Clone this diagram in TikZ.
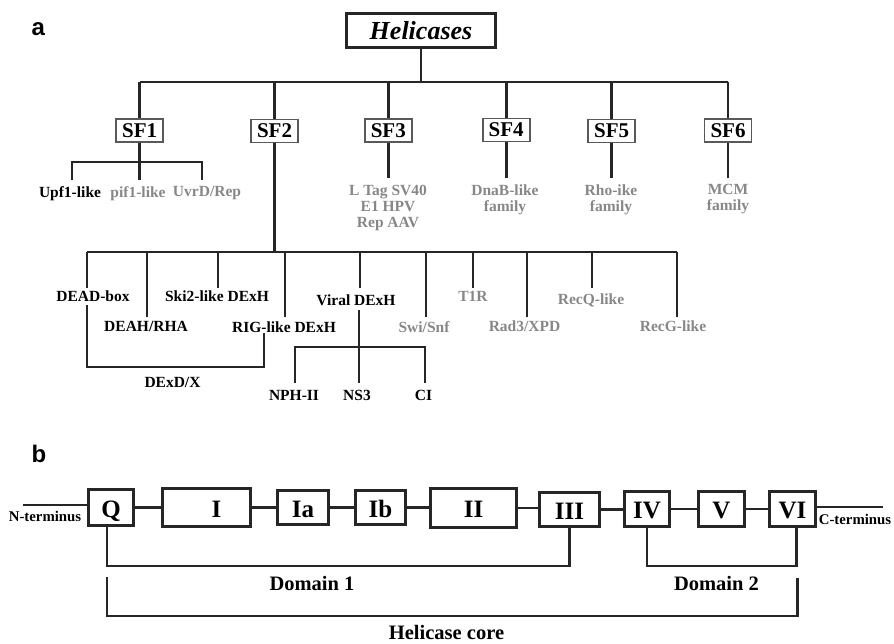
\documentclass[tikz,border=0pt]{standalone}
\usepackage{fontspec}
\setmainfont{Liberation Serif}
\setsansfont{Liberation Sans}
\begin{document}
\begin{tikzpicture}[x=1pt,y=-1pt,
  tree/.style={line width=2.7pt, draw=black!85},
  link/.style={line width=2.2pt, draw=black!85},
  sfbox/.style={draw=black!65, line width=1.6pt, fill=white, minimum width=47pt, minimum height=23pt, inner sep=0pt, font=\fontsize{21}{21}\selectfont\bfseries},
  lab/.style={font=\fontsize{15.5}{16}\selectfont\bfseries, inner sep=0pt, anchor=north, align=center},
  glab/.style={lab, text=black!47},
  mbox/.style={draw=black!85, line width=2.6pt, fill=white, inner sep=0pt, text height=19pt, text depth=0pt, font=\fontsize{25}{25}\selectfont\bfseries},
  blab/.style={font=\fontsize{20.5}{21}\selectfont\bfseries, inner sep=0pt, anchor=north},
  tlab/.style={font=\fontsize{14.8}{15}\selectfont\bfseries, inner sep=0pt, anchor=north},
  panel/.style={font=\fontsize{24}{24}\selectfont\sffamily\bfseries, inner sep=0pt, anchor=base west}
]
\useasboundingbox (0,0) rectangle (894,643);

% ---------------- panel a ----------------
\node[panel] (pa) at (31.5,35) {a};
\node[draw=black!85, line width=3pt, minimum width=149pt, minimum height=34pt, inner sep=0pt,
      font=\fontsize{26}{26}\selectfont\bfseries\itshape] (hel) at (421,30.5) {Helicases};

\node[sfbox] (sf1) at (139.7,130.5) {SF1};
\node[sfbox] (sf2) at (274.5,131) {SF2};
\node[sfbox] (sf3) at (388.3,130.5) {SF3};
\node[sfbox] (sf4) at (506.2,129.8) {SF4};
\node[sfbox] (sf5) at (611.7,130.8) {SF5};
\node[sfbox] (sf6) at (728,130.2) {SF6};

\coordinate (bar) at (0,82);
\draw[tree] (hel.south) -- (hel.south |- bar);
\draw[tree] (sf1.north |- bar) -- (sf6.north |- bar);
\foreach \s in {sf1,sf2,sf3,sf4,sf5,sf6} \draw[tree] (\s.north |- bar) -- (\s.north);

% SF1 children
\node[lab]  (upf)  at (70,186)  {Upf1-like};
\node[glab] (pif)  at (138,186) {pif1-like};
\node[glab] (uvr)  at (207,186) {UvrD/Rep};
\coordinate (s1y) at (0,162);
\coordinate (s1e) at (0,180);
\coordinate (s1l) at (72,162);
\coordinate (s1r) at (202,162);
\draw[tree] (sf1.south) -- (sf1.south |- s1e);
\draw[tree] (s1l |- s1e) -- (s1l) -- (s1r) -- (s1r |- s1e);

% SF3 - SF6 children
\coordinate (s3e) at (0,178);
\node[glab] (sv) at (388,185) {L Tag SV40\\E1 HPV\\Rep AAV};
\node[glab] (dnab) at (505,185) {DnaB-like\\family};
\node[glab] (rho) at (611,185) {Rho-ike\\family};
\node[glab] (mcm) at (728,184) {MCM\\family};
\foreach \s in {sf3,sf4,sf5,sf6} \draw[tree] (\s.south) -- (\s.south |- s3e);

% SF2 children
\coordinate (s2y) at (0,252);
\coordinate (s2l) at (87,252);
\coordinate (s2r) at (677,252);
\draw[tree] (sf2.south) -- (sf2.south |- s2y);
\draw[tree] (s2l) -- (s2r);

\node[lab]  (dead) at (93,290.5)  {DEAD-box};
\node[lab]  (deah) at (146,321.5) {DEAH/RHA};
\node[lab]  (ski)  at (217,291)   {Ski2-like DExH};
\node[lab]  (rig)  at (284,321.5) {RIG-like DExH};
\node[lab]  (vir)  at (356,295)   {Viral DExH};
\node[glab] (swi)  at (424,321.5) {Swi/Snf};
\node[glab] (tir)  at (473,291.5) {T1R};
\node[glab] (rad)  at (524.5,320.5) {Rad3/XPD};
\node[glab] (recq) at (591,294)   {RecQ-like};
\node[glab] (recg) at (673,320.5) {RecG-like};

\coordinate (eA) at (0,288);
\coordinate (eB) at (0,317);
\draw[tree] (s2l) -- (s2l |- eA);
\draw[tree] (147,252) coordinate (x2) -- (x2 |- eB);
\draw[tree] (218,252) coordinate (x3) -- (x3 |- eA);
\draw[tree] (285,252) coordinate (x4) -- (x4 |- eB);
\draw[tree] (360,252) coordinate (x5) -- (x5 |- eA);
\draw[tree] (426,252) coordinate (x6) -- (x6 |- eB);
\draw[tree] (473,252) coordinate (x7) -- (x7 |- eA);
\draw[tree] (527,252) coordinate (x8) -- (x8 |- eB);
\draw[tree] (592,252) coordinate (x9) -- (x9 |- eA);
\draw[tree] (s2r) -- (s2r |- eB);

% DExD/X bracket
\node[lab] (dexd) at (172.5,377) {DExD/X};
\coordinate (dxL) at (87,305);
\coordinate (dxR) at (264,333);
\coordinate (dxy) at (0,367);
\draw[tree] (dxL) -- (dxL |- dxy) -- (dxR |- dxy) -- (dxR);

% Viral DExH children
\node[lab] (nph) at (294,390) {NPH-II};
\node[lab] (ns3) at (357,390) {NS3};
\node[lab] (ci)  at (423.5,390) {CI};
\coordinate (vt) at (359,310);
\coordinate (vy) at (0,347);
\coordinate (ve) at (0,383);
\coordinate (vl) at (295,347);
\coordinate (vr) at (425,347);
\draw[tree] (vt) -- (vt |- ve);
\draw[tree] (vl |- ve) -- (vl) -- (vr) -- (vr |- ve);

% ---------------- panel b ----------------
\node[panel] (pb) at (31.5,462.5) {b};

\node[mbox, minimum width=45.4pt, minimum height=36.4pt] (q)   at (111,507.5) {Q};
\node[mbox, minimum width=88.4pt, minimum height=38.4pt] (m1)  at (206.5,507.5) {\hspace*{10pt}I\hspace*{-10pt}};
\node[mbox, minimum width=51.4pt, minimum height=34.4pt] (m1a) at (303,507.5) {Ia};
\node[mbox, minimum width=50.4pt, minimum height=34.4pt] (m1b) at (380.5,507.5) {Ib};
\node[mbox, minimum width=86.4pt, minimum height=39.4pt] (m2)  at (473.5,508) {II};
\node[mbox, minimum width=60.4pt, minimum height=34.4pt] (m3)  at (569.5,509.5) {III};
\node[mbox, minimum width=45.4pt, minimum height=35.4pt] (m4)  at (647,509) {IV};
\node[mbox, minimum width=46.4pt, minimum height=35.4pt] (m5)  at (721.5,509) {V};
\node[mbox, minimum width=46.4pt, minimum height=35.4pt] (m6)  at (792.5,509) {VI};

\coordinate (nst) at (23,505);
\coordinate (cen) at (883,507);
\draw[link] (nst) -- (q.west |- nst);
\draw[link] (q.east) -- (m1.west |- q.east);
\draw[link] (m1.east) -- (m1a.west |- m1.east);
\draw[link] (m1a.east) -- (m1b.west |- m1a.east);
\draw[link] (m1b.east) -- (m2.west |- m1b.east);
\draw[link] (m2.east) -- (m3.west |- m2.east);
\draw[link] (m3.east) -- (m4.west |- m3.east);
\draw[link] (m4.east) -- (m5.west |- m4.east);
\draw[link] (m5.east) -- (m6.west |- m5.east);
\draw[link] (m6.east |- cen) -- (cen);

\node[tlab] (nterm) at (45,511) {N-terminus};
\node[tlab] (cterm) at (855,514) {C-terminus};

\coordinate (d1y) at (0,566);
\draw[link] ([xshift=-4pt]q.south) -- ([xshift=-4pt]q.south |- d1y) -- (m3.south |- d1y) -- (m3.south);
\draw[link] (m4.south) -- (m4.south |- d1y) -- ([xshift=4pt]m6.south |- d1y) -- ([xshift=4pt]m6.south);
\node[blab] (dom1) at (312,576.5) {Domain 1};
\node[blab] (dom2) at (716.5,576) {Domain 2};

\coordinate (hcL) at (107,577);
\coordinate (hcR) at (797.5,578);
\coordinate (hcy) at (0,616);
\draw[link] (hcL) -- (hcL |- hcy) -- (hcR |- hcy) -- (hcR);
\node[blab] (core) at (446.5,625) {Helicase core};
\end{tikzpicture}
\end{document}
